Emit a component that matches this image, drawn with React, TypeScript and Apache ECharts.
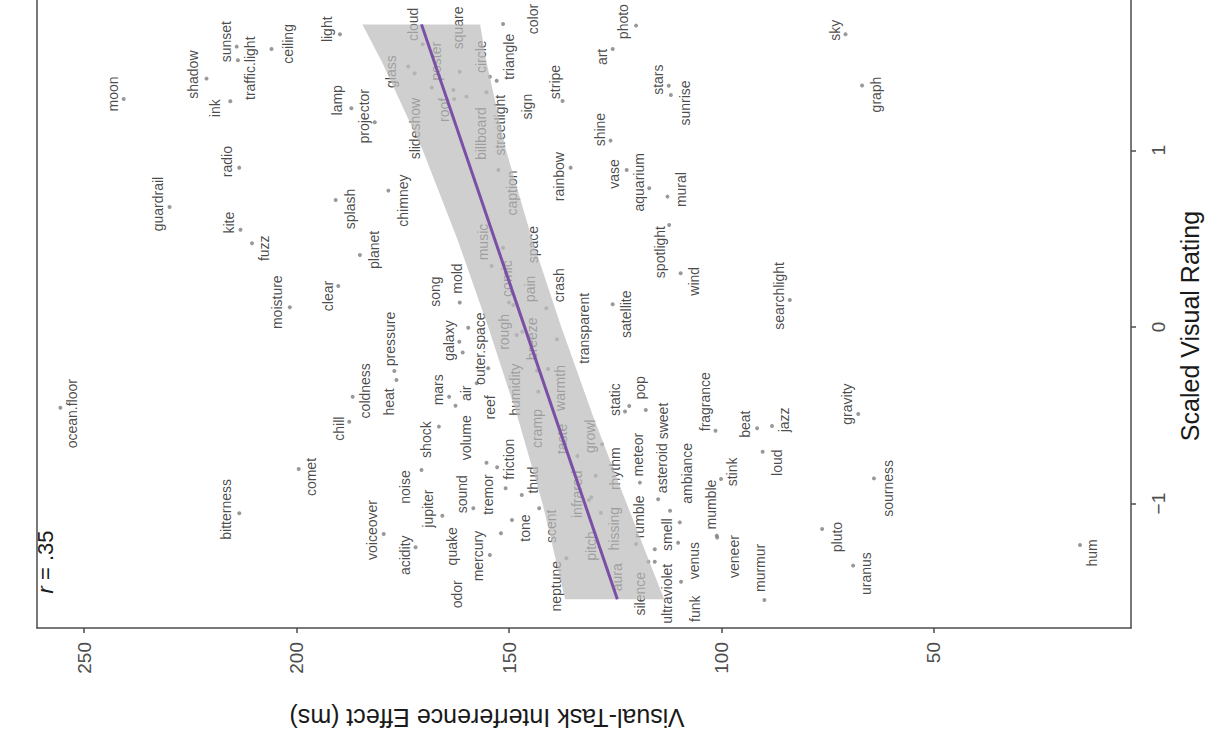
import React, { useEffect, useRef } from "react";
import * as echarts from "echarts";

const words = [
  "moon", "shadow", "sunset", "traffic.light", "ink", "ceiling", "radio", "guardrail", "kite", "fuzz",
  "moisture", "ocean.floor", "bitterness", "comet", "light", "cloud", "glass", "poster", "slideshow", "square",
  "roof", "billboard", "circle", "streetlight", "sign", "triangle", "color", "lamp", "projector", "rainbow",
  "stripe", "caption", "chimney", "splash", "photo", "art", "stars", "sunrise", "shine", "vase",
  "aquarium", "mural", "sky", "graph", "planet", "clear", "mold", "song", "galaxy", "outer.space",
  "pressure", "heat", "coldness", "mars", "air", "reef", "volume", "music", "space", "comic",
  "pain", "crash", "rough", "breeze", "transparent", "warmth", "humidity", "cramp", "spotlight", "wind",
  "satellite", "searchlight", "static", "pop", "sweet", "chill", "shock", "noise", "tremor", "friction",
  "sound", "jupiter", "voiceover", "acidity", "thud", "scent", "tone", "mercury", "quake", "odor",
  "neptune", "taste", "growl", "rhythm", "infrared", "pitch", "hissing", "meteor", "asteroid", "ambiance",
  "rumble", "smell", "venus", "funk", "ultraviolet", "silence", "aura", "mumble", "veneer", "murmur",
  "stink", "fragrance", "beat", "jazz", "loud", "pluto", "uranus", "gravity", "hum", "sourness",
];

const interferenceMs = [
  240.7, 221.2, 214.1, 213.8, 215.6, 205.9, 213.5, 229.9, 213.2, 210.5,
  201.6, 255.6, 213.5, 199.5, 189.8, 170.3, 173.7, 172.2, 168.2, 163.1,
  162.9, 160.0, 161.6, 155.3, 154.5, 152.9, 151.4, 187.1, 181.6, 135.5,
  137.4, 152.5, 178.4, 190.8, 120.1, 125.6, 112.4, 111.9, 126.1, 122.3,
  117.0, 112.7, 70.8, 66.9, 185.1, 190.2, 161.6, 161.7, 160.9, 159.6,
  177.0, 176.5, 186.8, 164.1, 157.6, 154.9, 162.6, 154.1, 151.4, 150.0,
  149.0, 141.2, 148.2, 146.9, 138.7, 140.8, 143.1, 143.4, 112.3, 109.6,
  125.6, 83.9, 122.7, 121.7, 117.8, 187.6, 166.5, 170.6, 155.3, 152.8,
  158.4, 165.7, 179.5, 172.0, 147.0, 142.9, 149.3, 154.5, 151.9, 150.8,
  136.5, 133.9, 128.1, 129.6, 130.6, 131.2, 128.4, 119.2, 114.9, 109.8,
  120.1, 112.1, 110.2, 109.5, 115.7, 117.2, 115.7, 101.1, 101.0, 89.9,
  100.1, 101.4, 91.6, 88.1, 90.3, 76.3, 69.0, 67.8, 15.6, 64.1,
];

const visualRating = [
  1.291, 1.406, 1.587, 1.51, 1.278, 1.574, 0.902, 0.679, 0.551, 0.474,
  0.112, -0.457, -1.055, -0.804, 1.657, 1.6, 1.474, 1.436, 1.355, 1.342,
  1.291, 1.304, 1.445, 1.329, 1.417, 1.394, 1.715, 1.238, 1.159, 0.902,
  1.279, 0.889, 0.772, 0.719, 1.706, 1.574, 1.366, 1.313, 1.055, 0.889,
  0.785, 0.738, 1.657, 1.367, 0.408, 0.232, 0.138, -0.083, -0.145, -0.004,
  -0.249, -0.3, -0.395, -0.395, -0.319, -0.234, -0.446, 0.345, 0.449, 0.138,
  0.125, 0.106, -0.045, -0.027, -0.07, -0.238, -0.366, -0.247, 0.577, 0.304,
  0.129, 0.153, -0.479, -0.447, -0.47, -0.536, -0.564, -0.81, -0.768, -0.794,
  -1.026, -1.068, -1.172, -1.247, -0.951, -1.026, -1.093, -1.291, -1.168, -0.913,
  -1.309, -0.73, -0.664, -0.842, -0.964, -0.979, -1.051, -0.881, -0.975, -1.106,
  -1.228, -1.04, -1.221, -1.442, -1.329, -1.329, -1.258, -1.181, -1.192, -1.545,
  -0.86, -0.587, -0.573, -0.56, -0.706, -1.144, -1.351, -0.493, -1.234, -0.857,
];

// label displacement (px) from its point, as placed by the repel layout
const labelNudge: [number, number][] = [
  [-11, -5], [-14, -4], [-11, -5], [12, 8], [-15, 7], [16, -5], [-12, -6], [-12, -3], [-12, -7], [12, 5],
  [-13, -5], [12, 6], [-13, -4], [12, 8], [-13, -5], [-10, -20], [-17, 5], [21, -12], [-17, 41], [5, -62],
  [-10, 11], [14, 37], [21, -15], [14, 33], [37, 30], [12, -24], [30, -5], [-14, -8], [-11, -6], [-12, 9],
  [-8, -19], [14, 23], [15, 10], [14, 9], [-13, -4], [-11, 8], [-11, -6], [14, 8], [-11, -11], [-13, 4],
  [-10, -6], [14, -7], [-10, -4], [14, 9], [14, -5], [-10, 10], [-3, -24], [-24, -50], [-14, -12], [12, 21],
  [-4, -32], [-7, 22], [12, -6], [-11, -7], [-11, 10], [2, 39], [11, 32], [-9, -24], [30, -3], [-2, -24],
  [17, -16], [13, -23], [-13, -3], [10, 7], [27, -11], [12, 19], [-23, -2], [0, 58], [-9, 27], [13, 8],
  [13, 10], [-11, -4], [-10, -12], [11, -18], [17, 11], [-10, 7], [-13, 13], [-16, 17], [2, 32], [12, -8],
  [-11, -14], [-14, -7], [-12, -4], [-11, 8], [11, -15], [12, 18], [13, 8], [-12, 1], [-49, 13], [-49, 106],
  [-10, 28], [-15, -17], [-12, -8], [19, -7], [-14, -3], [2, 46], [13, 16], [-2, -28], [4, -31], [7, -49],
  [3, -27], [-3, 24], [16, 18], [14, 27], [12, 32], [-8, 32], [-38, 28], [-6, -31], [17, 19], [-4, -32],
  [11, -7], [-10, -29], [-12, -4], [12, -6], [14, 11], [15, 8], [13, 8], [-11, -10], [12, 8], [14, 10],
];

// confidence band of the linear fit
const bandRating = [-1.541, -1.0, -0.5, 0, 0.5, 1.0, 1.5, 1.713];
const bandLowerMs = [113.5, 122.3, 130.3, 137.7, 144.6, 150.7, 155.3, 156.8];
const bandUpperMs = [136.8, 142.1, 148.1, 154.9, 162.2, 170.3, 179.9, 184.5];

// fitted line end points
const fitRating = [-1.541, 1.713];
const fitMs = [124.5, 170.6];

const msTicks = [50, 100, 150, 200, 250];
const ratingTicks = [-1, 0, 1];

const FONT = "'Liberation Sans', Arial, Helvetica, sans-serif";
const DOT = 4;
const FRAME = "#4d4d4d";
const Y_MIN = -1.704;
const Y_MAX = 1.851;

export default function App() {
  const ref = useRef<HTMLDivElement>(null);

  useEffect(() => {
    if (!ref.current) return;
    const chart = echarts.init(ref.current, undefined, { renderer: "svg" });

    const points = words.map((w, i) => ({
      name: w,
      value: [interferenceMs[i], visualRating[i]],
      label: {
        position: [labelNudge[i][0] + DOT / 2, labelNudge[i][1] + DOT / 2],
      },
    }));

    const frameLine = { show: true, onZero: false, lineStyle: { color: FRAME, width: 1.5 } };

    const option: any = {
      animation: false,
      backgroundColor: "#ffffff",
      grid: {
        left: 37,
        right: 76,
        top: 0,
        bottom: 108,
        show: false,
      },
      xAxis: {
        type: "value",
        inverse: true,
        min: 3.6,
        max: 261.1,
        position: "bottom",
        splitLine: { show: false },
        axisLine: frameLine,
        axisTick: {
          show: true,
          customValues: msTicks,
          length: 5,
          lineStyle: { color: FRAME, width: 1.5 },
        },
        axisLabel: {
          customValues: msTicks,
          rotate: 90,
          fontSize: 19,
          color: FRAME,
          fontFamily: FONT,
          margin: 14,
        },
      },
      yAxis: [
        {
          type: "value",
          position: "right",
          min: Y_MIN,
          max: Y_MAX,
          splitLine: { show: false },
          axisLine: frameLine,
          axisTick: {
            show: true,
            customValues: ratingTicks,
            length: 5,
            lineStyle: { color: FRAME, width: 1.5 },
          },
          axisLabel: {
            customValues: ratingTicks,
            rotate: 90,
            fontSize: 19,
            color: FRAME,
            fontFamily: FONT,
            margin: 27,
            align: "center",
            verticalAlign: "middle",
            formatter: (v: number) => (v < 0 ? "\u2212" + Math.abs(v) : String(v)),
          },
        },
        {
          type: "value",
          position: "left",
          min: Y_MIN,
          max: Y_MAX,
          splitLine: { show: false },
          axisLine: frameLine,
          axisTick: { show: false },
          axisLabel: { show: false },
        },
      ],
      series: [
        {
          type: "scatter",
          z: 2,
          symbolSize: DOT,
          itemStyle: { color: "#7f7f7f" },
          silent: true,
          label: {
            show: true,
            formatter: "{b}",
            rotate: 90,
            align: "center",
            verticalAlign: "middle",
            fontSize: 14,
            color: "#1a1a1a",
            fontFamily: FONT,
          },
          labelLayout: { hideOverlap: false },
          data: points,
        },
        {
          type: "custom",
          z: 3,
          silent: true,
          data: [[bandUpperMs[0], bandRating[0]]],
          renderItem: (_p: any, api: any) => {
            const pts: number[][] = [];
            for (let i = 0; i < bandRating.length; i++) {
              pts.push(api.coord([bandUpperMs[i], bandRating[i]]));
            }
            for (let i = bandRating.length - 1; i >= 0; i--) {
              pts.push(api.coord([bandLowerMs[i], bandRating[i]]));
            }
            return {
              type: "polygon",
              shape: { points: pts },
              style: { fill: "rgba(189,189,189,0.72)", stroke: "none" },
            };
          },
        },
        {
          type: "line",
          z: 4,
          silent: true,
          symbol: "none",
          lineStyle: { color: "#7b4fa6", width: 3 },
          data: fitRating.map((r, i) => [fitMs[i], r]),
        },
      ],
      graphic: [
        {
          type: "text",
          x: 487,
          y: 718,
          rotation: Math.PI,
          style: {
            text: "Visual-Task Interference Effect (ms)",
            fontSize: 25,
            fontFamily: FONT,
            fill: "#1a1a1a",
            align: "center",
            verticalAlign: "middle",
          },
        },
        {
          type: "text",
          x: 1190,
          y: 326,
          rotation: Math.PI / 2,
          style: {
            text: "Scaled Visual Rating",
            fontSize: 25,
            fontFamily: FONT,
            fill: "#1a1a1a",
            align: "center",
            verticalAlign: "middle",
          },
        },
        {
          type: "text",
          x: 45,
          y: 562,
          rotation: Math.PI / 2,
          style: {
            text: "{i|r}{n| = .35}",
            fontFamily: FONT,
            fill: "#1a1a1a",
            align: "center",
            verticalAlign: "middle",
            rich: {
              i: { fontStyle: "italic", fontSize: 22, fontFamily: FONT, fill: "#1a1a1a" },
              n: { fontSize: 22, fontFamily: FONT, fill: "#1a1a1a" },
            },
          },
        },
      ],
    };

    chart.setOption(option);
    return () => chart.dispose();
  }, []);

  return (
    <div
      ref={ref}
      style={{ position: "fixed", left: 0, top: 0, width: 1207, height: 736 }}
    />
  );
}
